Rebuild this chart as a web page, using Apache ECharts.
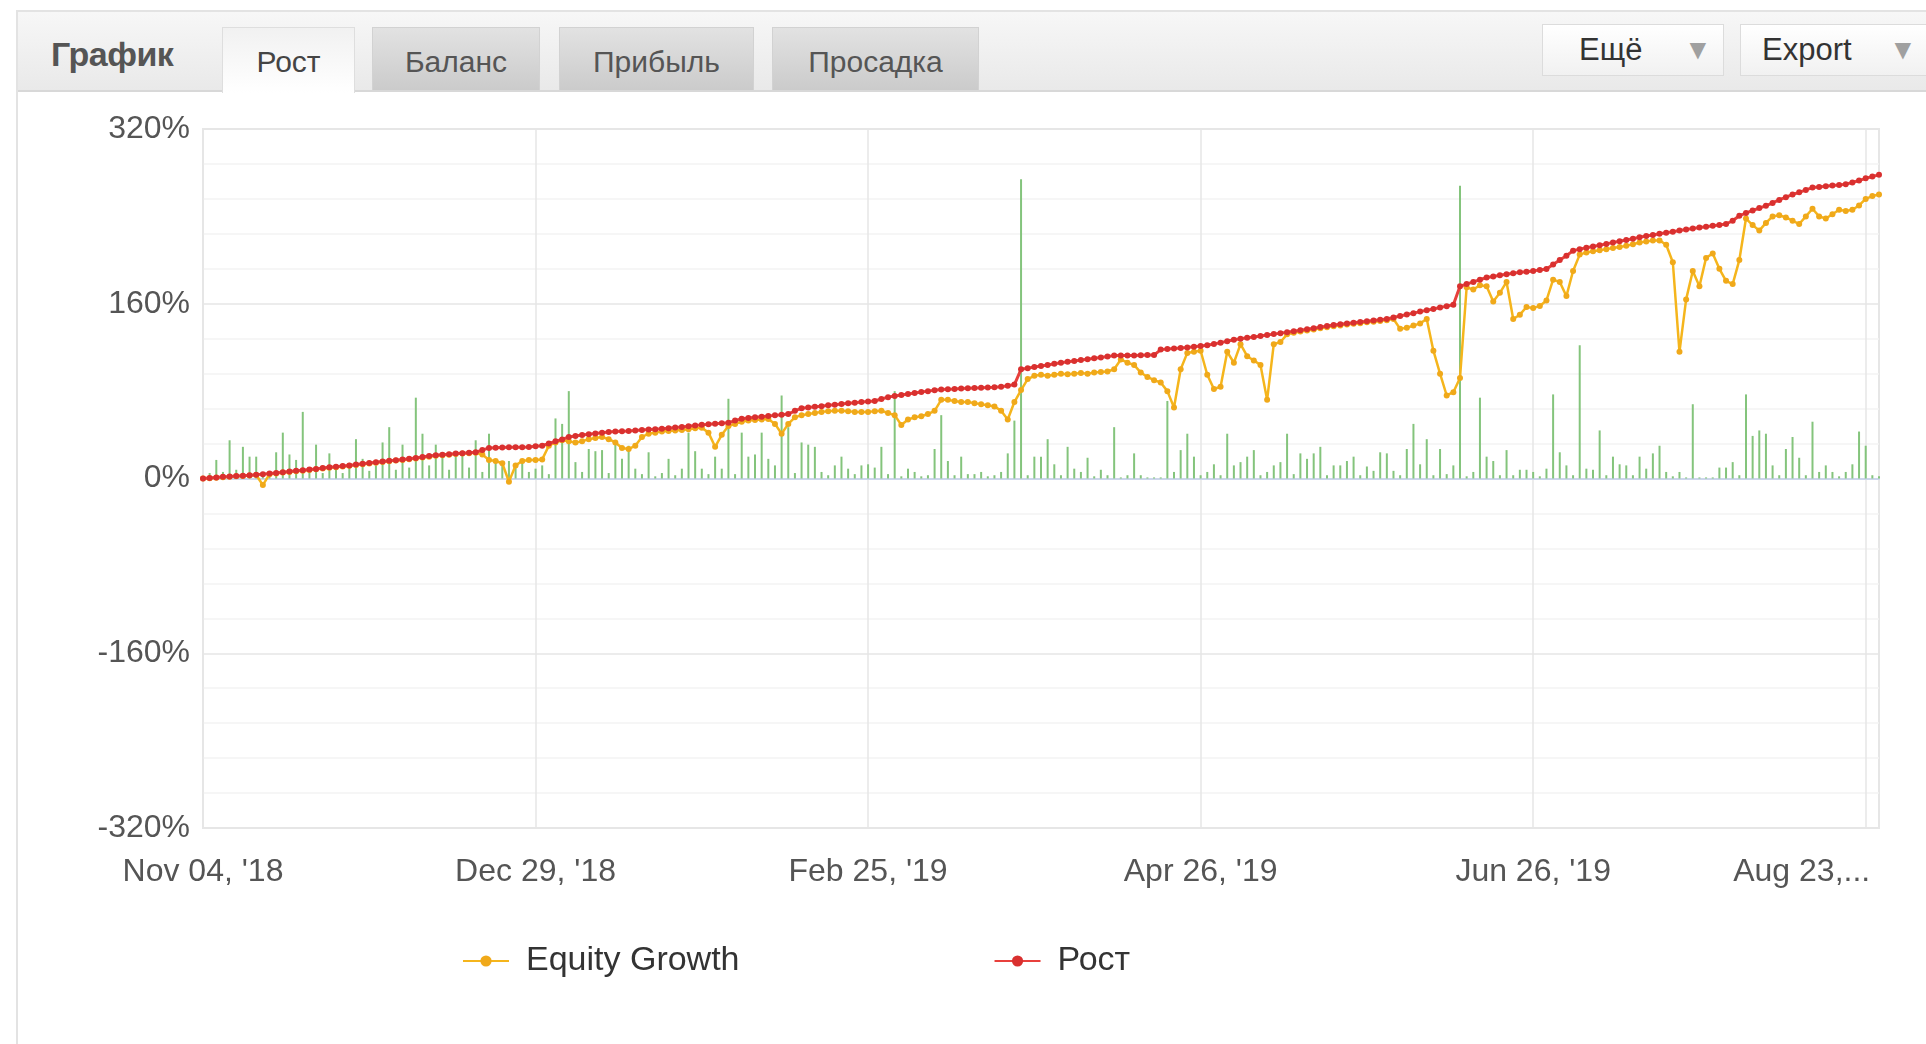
<!DOCTYPE html>
<html>
<head>
<meta charset="utf-8">
<title>Рост</title>
<script src="https://cdn.jsdelivr.net/npm/echarts@6/dist/echarts.min.js"></script>
<style>
  html, body { margin: 0; padding: 0; background: #fff; }
  #wrap { position: relative; width: 1926px; height: 1044px; overflow: hidden; font-family: 'Liberation Sans', Arial, sans-serif; }
  #chart { position: absolute; left: 0; top: 0; width: 1926px; height: 1044px; }
  .panel { position: absolute; left: 16px; top: 10px; width: 1940px; height: 1100px; border: 2px solid #e3e3e3; box-sizing: border-box; }
  .topbar { position: absolute; left: 18px; top: 12px; width: 1920px; height: 78px; background: linear-gradient(#f7f7f7, #e9e9e9); border-bottom: 2px solid #d8d8d8; }
  .title { position: absolute; left: 51px; top: 35px; font-size: 34px; font-weight: bold; color: #555; letter-spacing: -0.5px; }
  .tab { position: absolute; top: 27px; height: 63px; box-sizing: border-box; border: 1px solid #d2d2d2; border-bottom: none;
         background: linear-gradient(#e2e2e2, #cbcbcb); color: #555; font-size: 30px; text-align: center; line-height: 68px; }
  .tab.on { height: 66px; background: linear-gradient(#f1f1f1, #ffffff); color: #444; border-color: #dedede; z-index: 2; }
  .btn { position: absolute; top: 24px; height: 52px; box-sizing: border-box; border: 1px solid #dcdcdc; background: linear-gradient(#ffffff, #f1f1f1);
         color: #333; font-size: 31px; line-height: 50px; }
  .btn span { position: absolute; }
  .btn .arr { color: #a0a0a0; font-size: 28px; }
</style>
</head>
<body>
<div id="wrap">
  <div id="chart"></div>
  <div class="panel"></div>
  <div class="topbar"></div>
  <div class="title">График</div>
  <div class="tab on" style="left:222px;width:133px;">Рост</div>
  <div class="tab" style="left:372px;width:168px;">Баланс</div>
  <div class="tab" style="left:559px;width:195px;">Прибыль</div>
  <div class="tab" style="left:772px;width:207px;">Просадка</div>
  <div class="btn" style="left:1542px;width:182px;"><span style="left:36px;">Ещё</span><span class="arr" style="left:141px;">▼</span></div>
  <div class="btn" style="left:1740px;width:200px;"><span style="left:21px;">Export</span><span class="arr" style="left:148px;">▼</span></div>
</div>
<script>
// tick labels every 50 points on the category axis
const tickLabels = ["Nov 04, '18", "Dec 29, '18", "Feb 25, '19", "Apr 26, '19", "Jun 26, '19", "Aug 23,..."];
const tickStep = 50;

// Рост, %
const growth = [
  0, 0.5, 1, 1.5, 1.8, 2.2, 2.6, 3, 3.4, 4,
  4.5, 5, 5.8, 6.5, 7, 7.6, 8.2, 8.8, 9.6, 10.2,
  10.8, 11.4, 12, 12.8, 13.5, 14.2, 14.8, 15.5, 16.2, 16.8,
  17.4, 18, 18.8, 19.6, 20.6, 21.2, 21.8, 22.3, 22.8, 23.2,
  23.6, 24, 26, 28, 28.2, 28.4, 28.5, 28.6, 28.7, 28.8,
  29.5, 30, 32, 34, 35.8, 38, 39, 39.8, 40.5, 41.2,
  41.8, 42.5, 43, 43.3, 43.6, 44, 44.4, 44.8, 45.2, 45.5,
  46, 46.6, 47.2, 47.9, 48.6, 49.1, 49.6, 50.1, 50.6, 51,
  53, 54.7, 55.4, 56, 56.6, 57.2, 57.8, 58.3, 59, 62,
  64.4, 65, 65.6, 66.2, 67, 67.6, 68.2, 68.8, 69.4, 70,
  70.5, 71, 72.8, 74.5, 75.5, 76.4, 77.3, 78.2, 79.1, 80,
  80.8, 81.5, 81.8, 82, 82.3, 82.6, 82.8, 83, 83.3, 83.6,
  84, 85, 86, 100, 101, 102, 103, 104, 105, 106,
  106.8, 107.6, 108.4, 109.2, 110, 110.8, 111.6, 112.6, 112.6, 112.6,
  112.6, 112.8, 113, 113, 118, 118.6, 119, 119.5, 120, 120.6,
  121.3, 122, 123.2, 124.4, 125.6, 127, 127.9, 128.8, 129.6, 130.5,
  131.4, 132.2, 133.1, 134, 134.9, 135.8, 136.7, 137.6, 138.6, 139.6,
  140.6, 141.3, 142, 142.6, 143.3, 144, 144.6, 145.3, 146, 147.4,
  148.8, 150.1, 151.4, 152.8, 154, 155.2, 156.5, 157.8, 159, 176,
  178, 180, 182, 184, 185, 186, 187, 188, 188.8, 189.4,
  190, 191, 191.8, 196, 200, 204, 208.6, 210, 211.2, 212.4,
  213.6, 214.8, 216, 217.2, 218.4, 219.6, 220.8, 222, 223, 224,
  225, 226, 227, 228, 228.9, 229.8, 230.6, 231.4, 232.2, 233,
  236, 240.6, 243, 245.4, 247.6, 249.7, 252.3, 255, 257.6, 260,
  262, 264.2, 266.4, 267, 267.6, 268.2, 268.8, 269.5, 271, 272.8,
  274.8, 276.5, 278
];

// Equity Growth, %
const equity = [
  0, 0.3, 0.8, 1.2, 1.5, 2, 2.3, 2.8, 3.2, -6,
  4, 4.6, 5.4, 6, 6.6, 7.2, 7.8, 8.4, 9.2, 9.8,
  10.4, 11, 11.6, 12.4, 13, 13.8, 14.4, 15, 15.8, 16.4,
  17, 17.6, 18.4, 19.2, 20, 20.8, 21.4, 21.8, 22.4, 22.8,
  23.2, 23.6, 22, 17, 16, 14, -3, 12, 16, 17,
  17, 17.5, 30, 33, 35, 34, 33, 34, 36, 37,
  38, 36, 33, 28, 27, 30, 38, 41, 42, 43,
  43.5, 44, 44.5, 45, 46, 46.5, 42, 29, 40, 48,
  50, 52, 53, 53.5, 54, 54.5, 50, 41, 50, 56,
  58, 59, 60, 61, 61.5, 62, 62, 61.5, 61, 61,
  61, 61.5, 62, 60, 58, 49, 54, 56, 57, 59,
  62, 72, 72, 71, 70, 70, 69, 68, 67, 66,
  62, 54, 70, 81, 91, 94, 95, 94, 95, 96,
  95.5, 96, 96.5, 96, 97, 97.5, 98, 100, 109, 106,
  104, 97, 93, 90, 88, 80, 65, 100, 115, 116,
  117, 95, 82, 84, 116, 106, 123, 112, 108, 104,
  72, 123, 125, 132, 133.5, 134.5, 135.5, 136.5, 137.5, 138.5,
  139.5, 140.2, 141, 141.6, 142.2, 143, 143.6, 144.3, 145, 146,
  137, 138, 140, 142, 146, 117, 96, 76, 79, 92,
  175, 173, 177, 176, 162, 170, 180, 146, 150, 157,
  156, 158, 163, 182, 180, 167, 190, 205, 207, 208,
  209, 210, 211, 212, 213, 214.5, 216, 217, 218, 218,
  214, 198, 116, 164, 190, 176, 202, 206, 192, 181,
  178, 200, 238, 232, 227, 234, 240, 241, 239, 236,
  233, 240, 247, 240, 238, 242, 246, 245, 246, 250,
  256, 258.6, 260
];

// green bars, %
const bars = [
  0, 5, 17, 6, 35, 8, 29, 20, 20, 4,
  6, 24, 42, 22, 17, 61, 6, 31, 5, 23,
  8, 5, 10, 36, 18, 7, 12, 33, 47, 8,
  31, 10, 74, 41, 12, 31, 24, 8, 24, 24,
  10, 35, 6, 41, 15, 14, 16, 12, 15, 6,
  9, 12, 4, 55, 50, 80, 15, 6, 27, 25,
  26, 5, 35, 18, 30, 9, 4, 24, 2, 5,
  18, 3, 9, 42, 25, 9, 4, 20, 9, 73,
  4, 42, 20, 22, 42, 18, 12, 76, 47, 5,
  33, 31, 29, 6, 3, 12, 20, 9, 4, 12,
  13, 10, 29, 4, 80, 2, 9, 6, 2, 3,
  27, 58, 16, 3, 20, 4, 4, 6, 2, 3,
  6, 23, 53, 274, 3, 20, 20, 36, 13, 3,
  29, 9, 6, 19, 2, 8, 3, 47, 1, 3,
  23, 3, 1, 1, 1, 71, 6, 26, 41, 20,
  3, 6, 13, 3, 41, 12, 15, 20, 26, 3,
  6, 12, 15, 41, 4, 23, 18, 23, 29, 3,
  12, 12, 16, 20, 3, 11, 7, 24, 23, 7,
  3, 27, 50, 13, 36, 3, 27, 4, 12, 268,
  2, 6, 74, 20, 16, 3, 26, 3, 8, 8,
  6, 2, 9, 77, 24, 12, 3, 122, 9, 8,
  44, 3, 20, 13, 12, 3, 20, 9, 23, 30,
  6, 2, 6, 1, 68, 1, 1, 1, 10, 10,
  15, 3, 77, 39, 44, 41, 12, 3, 27, 38,
  19, 3, 52, 6, 12, 6, 2, 6, 13, 43,
  30, 3, 2
];

const categories = growth.map((v, i) => i);
const isTick = (i) => i % tickStep === 0;
const font = "'Liberation Sans', Arial, sans-serif";

const chart = echarts.init(document.getElementById('chart'));
chart.setOption({
  animation: false,
  backgroundColor: 'transparent',
  textStyle: { fontFamily: font },
  grid: { left: 203, right: 47, top: 129, bottom: 216, show: true, borderColor: '#e6e6e6', borderWidth: 2 },
  legend: {
    data: ['Equity Growth', 'Рост'],
    left: 457,
    top: 939,
    itemWidth: 46,
    itemHeight: 14,
    itemGap: 254,
    textStyle: { fontSize: 34, color: '#333', fontFamily: font, padding: [0, 0, 0, 12] }
  },
  xAxis: {
    type: 'category',
    boundaryGap: false,
    data: categories,
    axisLine: { lineStyle: { color: '#ccd6eb', width: 2 } },
    axisTick: { show: false },
    splitLine: { show: true, interval: (i) => isTick(i), lineStyle: { color: '#e6e6e6', width: 1.5 } },
    axisLabel: {
      interval: (i) => isTick(i),
      margin: 28,
      fontSize: 32,
      color: '#555',
      fontFamily: font,
      formatter: function (v, i) {
        const k = i / tickStep;
        if (k === tickLabels.length - 1) return '{cut|' + tickLabels[k] + '}';
        return tickLabels[k];
      },
      rich: { cut: { fontSize: 32, color: '#555', fontFamily: font, padding: [0, 128, 0, 0] } }
    }
  },
  yAxis: {
    type: 'value',
    min: -320,
    max: 320,
    interval: 160,
    axisLine: { show: false },
    axisTick: { show: false },
    axisLabel: { formatter: '{value}%', fontSize: 32, color: '#555', margin: 13, fontFamily: font },
    splitLine: { lineStyle: { color: '#e6e6e6', width: 1.5 } },
    minorTick: { show: false, splitNumber: 5 },
    minorSplitLine: { show: true, lineStyle: { color: '#f3f3f3', width: 1.5 } }
  },
  series: [
    {
      name: 'bars',
      type: 'bar',
      data: bars,
      barWidth: 2,
      z: 1,
      itemStyle: { color: '#84c47c' }
    },
    {
      name: 'Equity Growth',
      type: 'line',
      data: equity,
      z: 2,
      symbol: 'circle',
      symbolSize: 6,
      showAllSymbol: true,
      lineStyle: { color: '#f5b51c', width: 2.5 },
      itemStyle: { color: '#f0a91a' }
    },
    {
      name: 'Рост',
      type: 'line',
      data: growth,
      z: 3,
      symbol: 'circle',
      symbolSize: 6,
      showAllSymbol: true,
      lineStyle: { color: '#e8403c', width: 3 },
      itemStyle: { color: '#d9302f' }
    }
  ]
});
</script>
</body>
</html>
